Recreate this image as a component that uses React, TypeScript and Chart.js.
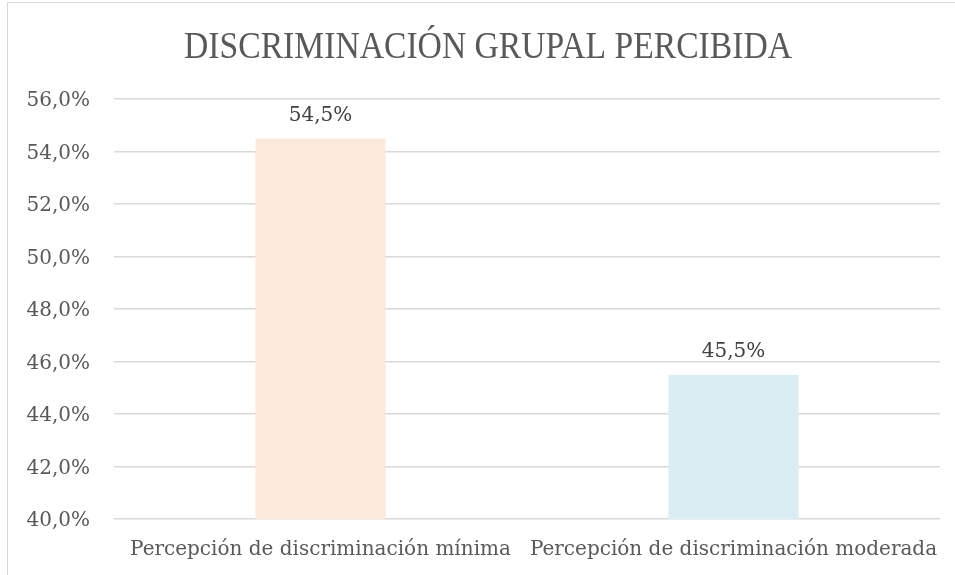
import React, { useEffect, useRef } from "react";
import { Chart, registerables } from "chart.js";

Chart.register(...registerables);

const TITLE = "DISCRIMINACIÓN GRUPAL PERCIBIDA";
const categories = ["Percepción de discriminación mínima", "Percepción de discriminación moderada"];
const values = [54.5, 45.5];
const barColors = ["#FBE9DB", "#DAEDF3"];
const yMin = 40;
const yMax = 56;
const yStep = 2;

const fmt = (v: number) => v.toFixed(1).replace(".", ",") + "%";

const labelPlugin = {
  id: "barLabels",
  afterDatasetsDraw(chart: any) {
    const ctx = chart.ctx;
    const meta = chart.getDatasetMeta(0);
    ctx.save();
    ctx.font = "20px 'DejaVu Serif'";
    ctx.fillStyle = "#404040";
    ctx.textAlign = "center";
    ctx.textBaseline = "middle";
    meta.data.forEach((bar: any, i: number) => {
      ctx.fillText(fmt(values[i]), bar.x, bar.y - 23);
    });
    ctx.restore();
  },
};

const titlePlugin = {
  id: "condTitle",
  afterDraw(chart: any) {
    const ctx = chart.ctx;
    ctx.save();
    ctx.font = "38px 'Liberation Serif'";
    ctx.fillStyle = "#595959";
    ctx.textAlign = "center";
    ctx.textBaseline = "alphabetic";
    const w = ctx.measureText(TITLE).width;
    const sx = 608 / w;
    ctx.translate(488, 58);
    ctx.scale(sx, 1);
    ctx.fillText(TITLE, 0, 0);
    ctx.restore();
  },
};

export default function App() {
  const ref = useRef<HTMLCanvasElement>(null);
  useEffect(() => {
    if (!ref.current) return;
    const chart = new Chart(ref.current, {
      type: "bar",
      data: {
        labels: categories,
        datasets: [
          {
            data: values,
            backgroundColor: barColors,
            borderWidth: 0,
            categoryPercentage: 1,
            barPercentage: 0.315,
          },
        ],
      },
      options: {
        responsive: false,
        animation: false,
        layout: { padding: { left: 0, right: 15, top: 99, bottom: 0 } },
        plugins: {
          legend: { display: false },
          tooltip: { enabled: false },
          title: { display: false },
        },
        scales: {
          x: {
            grid: { display: false, drawTicks: false },
            border: { display: false },
            ticks: {
              color: "#595959",
              font: { family: "'DejaVu Serif'", size: 20 },
              maxRotation: 0,
              autoSkip: false,
              padding: 19,
            },
            afterFit: (s: any) => {
              s.height = 56;
              s.paddingLeft = 0;
              s.paddingRight = 0;
            },
          },
          y: {
            min: yMin,
            max: yMax,
            grid: { color: "#D9D9D9", lineWidth: 1.5, drawTicks: false },
            border: { display: false },
            ticks: {
              stepSize: yStep,
              color: "#595959",
              font: { family: "'DejaVu Serif'", size: 20 },
              padding: 24,
              labelOffset: 2,
              callback: (v: any) => fmt(Number(v)),
            },
            afterFit: (s: any) => {
              s.width = 114;
            },
          },
        },
      },
      plugins: [labelPlugin, titlePlugin],
    });
    return () => chart.destroy();
  }, []);
  return (
    <div style={{ position: "fixed", left: 0, top: 0, width: 955, height: 575, background: "#fff", overflow: "hidden" }}>
      <div style={{ position: "absolute", left: 7, top: 2, width: 1000, height: 700, border: "1.5px solid #D9D9D9" }} />
      <canvas ref={ref} width={955} height={575} style={{ position: "absolute", left: 0, top: 0 }} />
    </div>
  );
}
